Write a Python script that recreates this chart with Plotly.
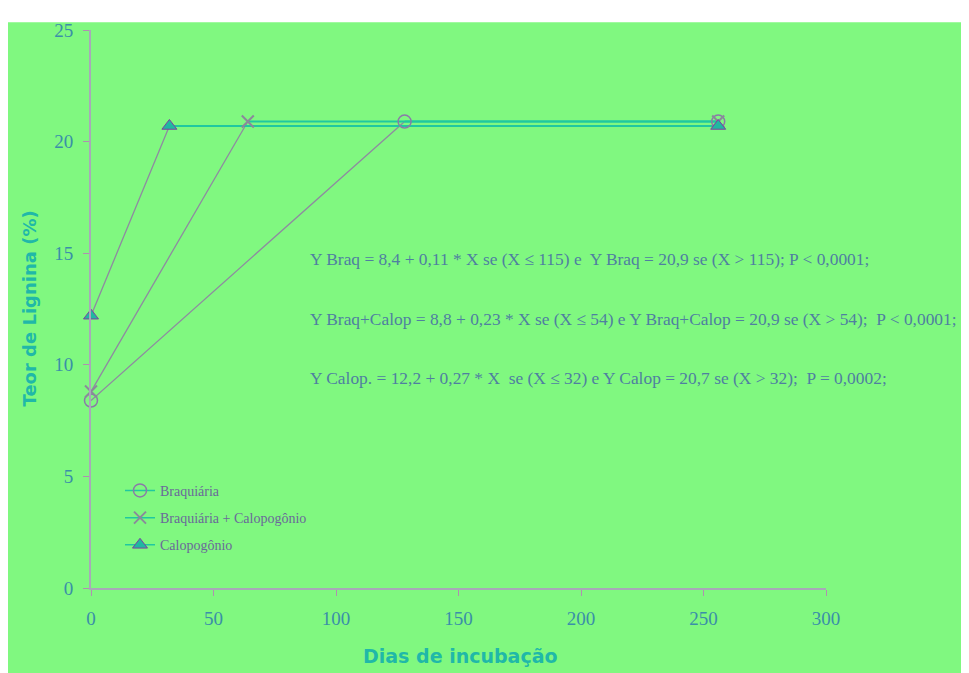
import plotly.graph_objects as go

# Data
dias = [0, 50, 100, 150, 200, 250, 300]
lignina_ticks = [0, 5, 10, 15, 20, 25]
braq_x = [0, 128, 256]
braq_y = [8.4, 20.9, 20.9]
bc_x = [0, 64, 256]
bc_y = [8.8, 20.9, 20.9]
calop_x = [0, 32, 256]
calop_y = [12.2, 20.7, 20.7]
names = ["Braquiária", "Braquiária + Calopogônio", "Calopogônio"]
equations = [
    "Y Braq = 8,4 + 0,11 * X se (X ≤ 115) e  Y Braq = 20,9 se (X > 115); P < 0,0001;",
    "Y Braq+Calop = 8,8 + 0,23 * X se (X ≤ 54) e Y Braq+Calop = 20,9 se (X > 54);  P < 0,0001;",
    "Y Calop. = 12,2 + 0,27 * X  se (X ≤ 32) e Y Calop = 20,7 se (X > 32);  P = 0,0002;",
]
eq_y = [14.75, 12.05, 9.4]

GREEN = "#80f880"
TEAL = "#20c8a0"
RISE = "#8e8aa0"
TXT = "#4f7fa0"

# figure sits at page offset (8, 8); plot area spans page x 91..826, y 21..588
FW, FH = 961, 665
L, T, PW, PH = 83, 13, 735, 567

series = [
    (braq_x, braq_y, names[0], dict(symbol="circle-open", size=13, color="#8a7aa8", line=dict(width=1.5))),
    (bc_x, bc_y, names[1], dict(symbol="x-thin-open", size=12, color="#8a8a9a", line=dict(width=2, color="#9a8a8a"))),
    (calop_x, calop_y, names[2], dict(symbol="triangle-up", size=13, color="#20b8a0", line=dict(width=1, color="#8040a0"))),
]

fig = go.Figure()
for xs, ys, nm, mk in series:
    fig.add_trace(go.Scatter(x=xs[:2], y=ys[:2], mode="lines", line=dict(color=RISE, width=1.3),
                             showlegend=False, hoverinfo="skip", cliponaxis=False))
    fig.add_trace(go.Scatter(x=xs[1:], y=ys[1:], mode="lines", line=dict(color=TEAL, width=2),
                             showlegend=False, hoverinfo="skip", cliponaxis=False))
for xs, ys, nm, mk in series:
    fig.add_trace(go.Scatter(x=xs, y=ys, mode="markers", marker=mk, name=nm, showlegend=False,
                             cliponaxis=False))
for i, (xs, ys, nm, mk) in enumerate(series):
    fig.add_trace(go.Scatter(x=[None], y=[None], mode="lines+markers", marker=mk, name=nm,
                             line=dict(color=TEAL, width=1.5), legendgroup=f"g{i}", showlegend=True))

def px(xp):
    return (xp - 8 - L) / PW

def py(yp):
    return (T + PH - (yp - 8)) / PH

annotations = []
for txt, yy in zip(equations, eq_y):
    annotations.append(dict(x=px(308), xref="paper", y=yy, yref="y", text=txt, showarrow=False,
                            xanchor="left", yanchor="middle",
                            font=dict(family="Liberation Serif", size=17.4, color=TXT)))
annotations.append(dict(x=px(460), xref="paper", y=py(657), yref="paper", text="<b>Dias de incubação</b>",
                        showarrow=False, xanchor="center", yanchor="middle",
                        font=dict(family="DejaVu Sans", size=19, color="#20b8a8")))
annotations.append(dict(x=px(30), xref="paper", y=py(304), yref="paper",
                        text="<b>Teor de Lignina (%)</b>", textangle=-90,
                        showarrow=False, xanchor="center", yanchor="middle",
                        font=dict(family="DejaVu Sans", size=18, color="#20b8a8")))

shapes = [
    dict(type="rect", xref="paper", yref="paper", x0=-0.2, x1=1.3, y0=py(13), y1=1.2,
         fillcolor="white", line=dict(width=0), layer="below"),
]

tickfont = dict(family="Liberation Serif", size=19, color="#3a8fa8")
fig.update_layout(
    width=FW, height=FH,
    margin=dict(l=L, r=FW - L - PW, t=T, b=FH - T - PH),
    paper_bgcolor=GREEN, plot_bgcolor=GREEN,
    showlegend=True,
    legend=dict(x=px(120), y=py(473), xanchor="left", yanchor="top", traceorder="grouped",
                bgcolor="rgba(0,0,0,0)", font=dict(family="Liberation Serif", size=14, color="#6a6a9a"),
                tracegroupgap=6, itemwidth=30),
    annotations=annotations,
    shapes=shapes,
    xaxis=dict(range=[0, 300], tickvals=dias, showline=True, linecolor="#a8a8b8", linewidth=2,
               ticks="outside", ticklen=6, tickcolor="#b090b0", showgrid=False, zeroline=False,
               ticklabelstandoff=6, tickfont=tickfont),
    yaxis=dict(range=[0, 25], tickvals=lignina_ticks, showline=True, linecolor="#a8a8b8", linewidth=2,
               ticks="outside", ticklen=6, tickcolor="#b090b0", showgrid=False, zeroline=False,
               ticklabelstandoff=6, tickfont=tickfont),
)

fig.write_html("out.html")
